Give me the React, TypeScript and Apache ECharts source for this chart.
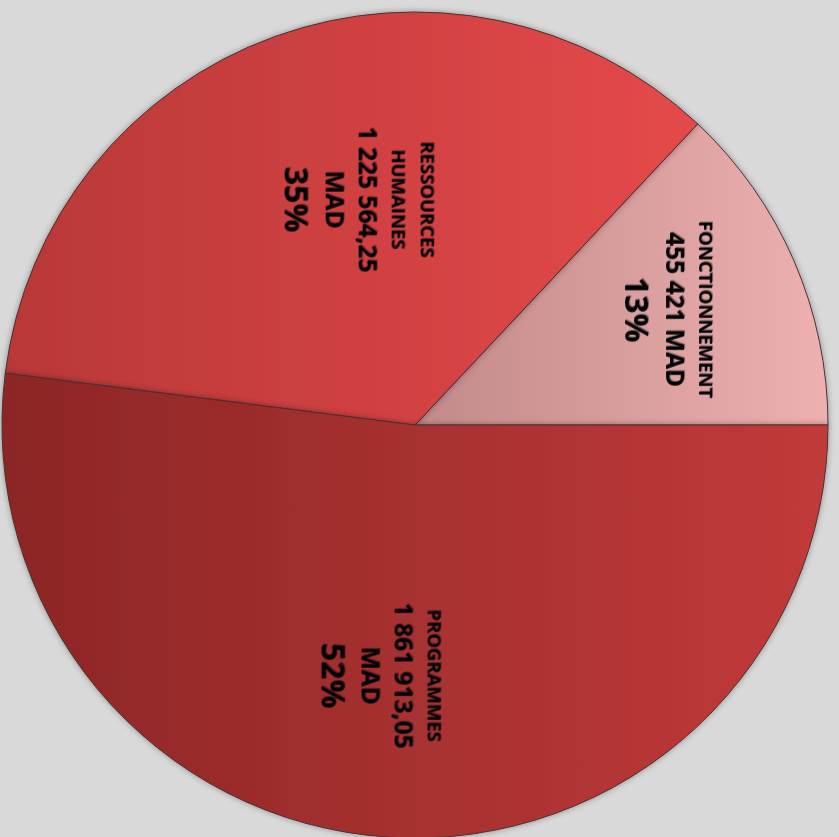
import React, { useEffect, useRef } from "react";
import * as echarts from "echarts";

const categories = ["FONCTIONNEMENT", "RESSOURCES\nHUMAINES", "PROGRAMMES"];
const shares = [13, 35, 52];
const amountLabels = ["455 421 MAD", "1 225 564,25\nMAD", "1 861 913,05\nMAD"];
const percentLabels = ["13%", "35%", "52%"];
const colorsLeft = ["#c28a8a", "#b93838", "#8c2626"];
const colorsRight = ["#eeb0b0", "#e5494a", "#c23a3a"];

export default function App() {
  const ref = useRef<HTMLDivElement>(null);
  useEffect(() => {
    const chart = echarts.init(ref.current!, null, { renderer: "svg" });
    const grad = (i: number) =>
      new echarts.graphic.LinearGradient(0, 0, 1, 0, [
        { offset: 0, color: colorsLeft[i] },
        { offset: 1, color: colorsRight[i] },
      ]);
    const mainData = categories.map((c, i) => ({
      name: c,
      value: shares[i],
      itemStyle: { color: grad(i) },
    }));
    const rich = {
      n: { fontSize: 18.5, lineHeight: 29, fontWeight: "bold", color: "#000", fontFamily: "Open Sans" },
      v: { fontSize: 24.5, lineHeight: 33, fontWeight: "bold", color: "#000", fontFamily: "Open Sans" },
      p: { fontSize: 32, lineHeight: 42, fontWeight: "bold", color: "#000", fontFamily: "Open Sans" },
    };
    // label placement overlays: [radius of label, angular shift]
    const labelPos = [
      [276, 1],
      [229, -6],
      [250, -4],
    ];
    const overlays = labelPos.map((lp, k) => ({
      type: "pie",
      center: [415, 425],
      radius: [lp[0] - 5, lp[0] + 5],
      startAngle: lp[1],
      clockwise: false,
      silent: true,
      z: 5,
      itemStyle: { color: "transparent" },
      labelLine: { show: false },
      data: categories.map((c, i) => ({
        name: c,
        value: shares[i],
        label: {
          show: i === k,
          position: "inside",
          rotate: -90,
          formatter: () => {
            const nameLines = categories[i].split("\n").map((s) => `{n|${s}}`).join("\n");
            const valLines = amountLabels[i].split("\n").map((s) => `{v|${s}}`).join("\n");
            return `${nameLines}\n${valLines}\n{p|${percentLabels[i]}}`;
          },
          rich,
          textShadowColor: "rgba(0,0,0,0.4)",
          textShadowBlur: 4,
          textShadowOffsetX: 1,
          textShadowOffsetY: 1,
        },
      })),
    }));
    chart.setOption({
      animation: false,
      backgroundColor: "#d9d9d9",
      series: [
        {
          type: "pie",
          center: [415, 425],
          radius: 413,
          startAngle: 0,
          clockwise: false,
          label: { show: false },
          labelLine: { show: false },
          itemStyle: {
            borderColor: "#4a3030",
            borderWidth: 1,
            shadowColor: "rgba(0,0,0,0.35)",
            shadowBlur: 6,
          },
          data: mainData,
        },
        ...overlays,
      ],
    });
    return () => chart.dispose();
  }, []);
  return (
    <div
      ref={ref}
      style={{ position: "fixed", left: 0, top: 0, width: 839, height: 837 }}
    />
  );
}
